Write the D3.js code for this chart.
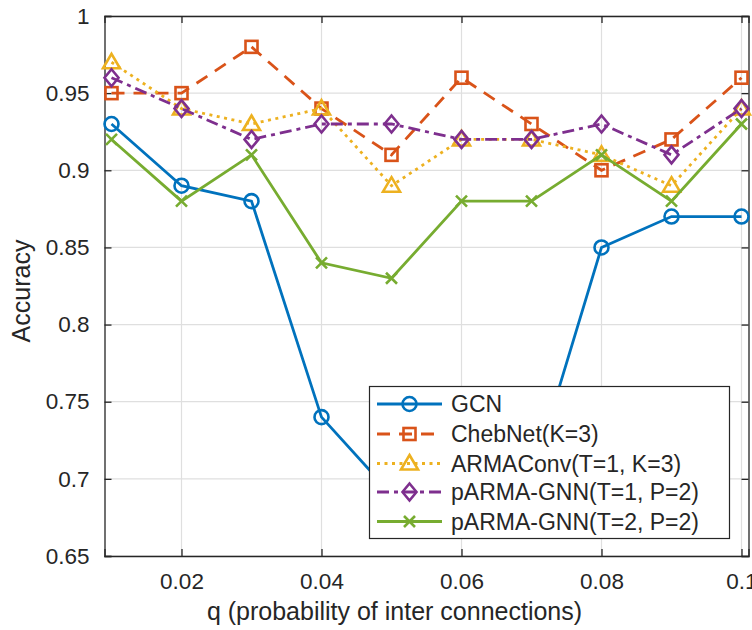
<!DOCTYPE html>
<html><head><meta charset="utf-8">
<script src="https://cdn.jsdelivr.net/npm/d3@7"></script>
<style>body{margin:0;background:#fff}svg{display:block}text{font-family:"Liberation Sans",Arial,sans-serif;fill:#262626}</style>
</head><body><svg id="c" width="752" height="630"></svg>
<script>
const qValues = [0.01,0.02,0.03,0.04,0.05,0.06,0.07,0.08,0.09,0.1];
const gcn      = [0.93,0.89,0.88,0.74,0.69,0.69,0.70,0.85,0.87,0.87];
const chebnet  = [0.95,0.95,0.98,0.94,0.91,0.96,0.93,0.90,0.92,0.96];
const armaconv = [0.97,0.94,0.93,0.94,0.89,0.92,0.92,0.91,0.89,0.94];
const parmaT1  = [0.96,0.94,0.92,0.93,0.93,0.92,0.92,0.93,0.91,0.94];
const parmaT2  = [0.92,0.88,0.91,0.84,0.83,0.88,0.88,0.91,0.88,0.93];
const seriesNames = ["GCN","ChebNet(K=3)","ARMAConv(T=1, K=3)","pARMA-GNN(T=1, P=2)","pARMA-GNN(T=2, P=2)"];
const xTicks = [0.02,0.04,0.06,0.08,0.1];
const xTickLabels = ["0.02","0.04","0.06","0.08","0.1"];
const yTicks = [0.65,0.7,0.75,0.8,0.85,0.9,0.95,1];
const yTickLabels = ["0.65","0.7","0.75","0.8","0.85","0.9","0.95","1"];

const styles = [
  {color:"#0072BD", dash:null, marker:"circle"},
  {color:"#D95319", dash:"13,9", marker:"square"},
  {color:"#EDB120", dash:"3,4.5", marker:"triangle"},
  {color:"#7E2F8E", dash:"12,5,4,5", marker:"diamond"},
  {color:"#77AC30", dash:null, marker:"cross"}
];
const data = [gcn, chebnet, armaconv, parmaT1, parmaT2];

const svg = d3.select("#c");
const L=104.5, R=748.5, T=16, B=556;
const x = d3.scaleLinear().domain([0.009,0.101]).range([L,R]);
const y = d3.scaleLinear().domain([0.65,1]).range([B,T]);
const fsTick = 22.5, fsLeg = 23, fsLab = 25;

// grid
const g = svg.append("g");
g.selectAll(".gx").data(xTicks).enter().append("line")
  .attr("x1",d=>x(d)).attr("x2",d=>x(d)).attr("y1",T).attr("y2",B)
  .attr("stroke","#dfdfdf").attr("stroke-width",1.2);
g.selectAll(".gy").data(yTicks).enter().append("line")
  .attr("y1",d=>y(d)).attr("y2",d=>y(d)).attr("x1",L).attr("x2",R)
  .attr("stroke","#dfdfdf").attr("stroke-width",1.2);

// axes with inward ticks
const tl = 7;
const axB = d3.axisBottom(x).tickValues(xTicks).tickSize(-tl).tickFormat((d,i)=>xTickLabels[i]).tickPadding(17);
const axT = d3.axisTop(x).tickValues(xTicks).tickSize(-tl).tickFormat("");
const axLf = d3.axisLeft(y).tickValues(yTicks).tickSize(-tl).tickFormat((d,i)=>yTickLabels[i]).tickPadding(15);
const axRt = d3.axisRight(y).tickValues(yTicks).tickSize(-tl).tickFormat("");
function styleAx(sel){
  sel.selectAll(".domain").attr("stroke","#262626").attr("stroke-width",1.3);
  sel.selectAll(".tick line").attr("stroke","#262626").attr("stroke-width",1.3);
  sel.selectAll(".tick text").attr("font-size",fsTick).attr("fill","#262626").attr("font-family","Liberation Sans, Arial, sans-serif");
}
styleAx(svg.append("g").attr("transform",`translate(0,${B})`).call(axB));
styleAx(svg.append("g").attr("transform",`translate(0,${T})`).call(axT));
styleAx(svg.append("g").attr("transform",`translate(${L},0)`).call(axLf));
styleAx(svg.append("g").attr("transform",`translate(${R},0)`).call(axRt));

// labels
svg.append("text").attr("x",394.5).attr("y",620).attr("text-anchor","middle").attr("font-size",fsLab)
  .text("q (probability of inter connections)");
svg.append("text").attr("transform",`translate(30,291) rotate(-90)`).attr("text-anchor","middle").attr("font-size",fsLab)
  .text("Accuracy");

function drawMarker(sel, type, cx, cy, color){
  const sw = 2.6;
  if(type==="circle") sel.append("circle").attr("cx",cx).attr("cy",cy).attr("r",7).attr("fill","none").attr("stroke",color).attr("stroke-width",sw);
  else if(type==="square") sel.append("rect").attr("x",cx-6).attr("y",cy-6).attr("width",12).attr("height",12).attr("fill","none").attr("stroke",color).attr("stroke-width",sw);
  else if(type==="triangle") sel.append("path").attr("d",`M${cx},${cy-8.5}L${cx+8.5},${cy+6}L${cx-8.5},${cy+6}Z`).attr("fill","none").attr("stroke",color).attr("stroke-width",sw).attr("stroke-linejoin","miter");
  else if(type==="diamond") sel.append("path").attr("d",`M${cx},${cy-8.5}L${cx+7},${cy}L${cx},${cy+8.5}L${cx-7},${cy}Z`).attr("fill","none").attr("stroke",color).attr("stroke-width",sw);
  else if(type==="cross") sel.append("path").attr("d",`M${cx-5.5},${cy-5.5}L${cx+5.5},${cy+5.5}M${cx-5.5},${cy+5.5}L${cx+5.5},${cy-5.5}`).attr("fill","none").attr("stroke",color).attr("stroke-width",sw);
}

const line = d3.line().x((d,i)=>x(qValues[i])).y(d=>y(d));
data.forEach((vals,si)=>{
  const st = styles[si];
  const gg = svg.append("g");
  gg.append("path").datum(vals).attr("d",line).attr("fill","none").attr("stroke",st.color)
    .attr("stroke-width",2.8).attr("stroke-dasharray",st.dash);
  vals.forEach((v,i)=>drawMarker(gg, st.marker, x(qValues[i]), y(v), st.color));
});

// legend
const lg = svg.append("g");
lg.append("rect").attr("x",369.5).attr("y",386.5).attr("width",360).attr("height",152)
  .attr("fill","#fff").attr("stroke","#262626").attr("stroke-width",1.2);
const rowY = [404,434,463.5,492,521.5];
seriesNames.forEach((name,i)=>{
  const st = styles[i];
  lg.append("line").attr("x1",377).attr("x2",442).attr("y1",rowY[i]).attr("y2",rowY[i])
    .attr("stroke",st.color).attr("stroke-width",2.8).attr("stroke-dasharray",st.dash);
  drawMarker(lg, st.marker, 409.5, rowY[i], st.color);
  lg.append("text").attr("x",451).attr("y",rowY[i]).attr("dy","0.36em").attr("font-size",fsLeg).text(name);
});
</script></body></html>
